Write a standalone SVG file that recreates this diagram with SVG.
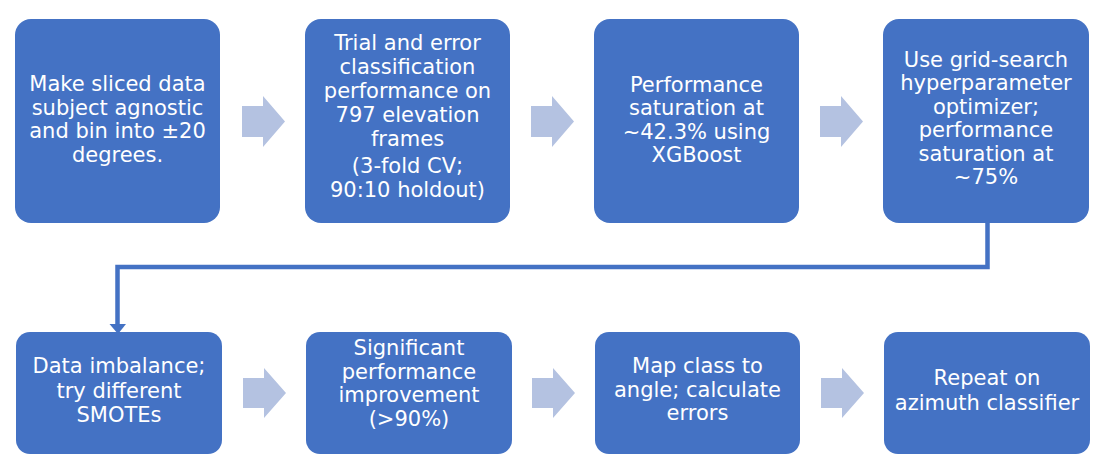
<svg xmlns="http://www.w3.org/2000/svg" width="1100" height="470" viewBox="0 0 1100 470">
<style>
.box{fill:#4472C4;}
.t{font-family:"DejaVu Sans","Liberation Sans",sans-serif;font-size:21px;fill:#FFFFFF;text-anchor:middle;}
.blk{fill:#B4C2E1;}
.con{fill:none;stroke:#4472C4;stroke-width:4.5;}
</style>
<rect width="1100" height="470" fill="#FFFFFF"/>
<g id="connectors">
<path class="con" d="M987.5,222 V267 H117.5 V326"/>
<polygon points="109.5,324 126,324 118,334" fill="#4472C4"/>
<polygon class="blk" points="242,106 263,106 263,96 285,121.5 263,147 263,137 242,137"/>
<polygon class="blk" points="531,106 552,106 552,96 574,121.5 552,147 552,137 531,137"/>
<polygon class="blk" points="820,106 841,106 841,96 863,121.5 841,147 841,137 820,137"/>
<polygon class="blk" points="243,378 264,378 264,368 286,393 264,418 264,408 243,408"/>
<polygon class="blk" points="532,378 553,378 553,368 575,393 553,418 553,408 532,408"/>
<polygon class="blk" points="821,378 842,378 842,368 864,393 842,418 842,408 821,408"/>
</g>
<g id="n1">
<rect class="box" x="15" y="19" width="205" height="204" rx="16"/>
<text class="t"><tspan x="117.5" y="91">Make sliced data</tspan><tspan x="117.5" y="114.5">subject agnostic</tspan><tspan x="117.5" y="138">and bin into ±20</tspan><tspan x="117.5" y="161.5">degrees.</tspan></text>
</g>
<g id="n2">
<rect class="box" x="305" y="19" width="205" height="204" rx="16"/>
<text class="t"><tspan x="407.5" y="50">Trial and error</tspan><tspan x="407.5" y="74">classification</tspan><tspan x="407.5" y="98">performance on</tspan><tspan x="407.5" y="122">797 elevation</tspan><tspan x="407.5" y="146">frames</tspan><tspan x="407.5" y="173">(3-fold CV;</tspan><tspan x="407.5" y="197">90:10 holdout)</tspan></text>
</g>
<g id="n3">
<rect class="box" x="594" y="19" width="205" height="204" rx="16"/>
<text class="t"><tspan x="696.5" y="92">Performance</tspan><tspan x="696.5" y="115">saturation at</tspan><tspan x="696.5" y="138.5">~42.3% using</tspan><tspan x="696.5" y="162">XGBoost</tspan></text>
</g>
<g id="n4">
<rect class="box" x="883" y="19" width="206" height="204" rx="16"/>
<text class="t"><tspan x="986" y="67">Use grid-search</tspan><tspan x="986" y="90">hyperparameter</tspan><tspan x="986" y="113.5">optimizer;</tspan><tspan x="986" y="137">performance</tspan><tspan x="986" y="161">saturation at</tspan><tspan x="986" y="184">~75%</tspan></text>
</g>
<g id="n5">
<rect class="box" x="16" y="332" width="206" height="122" rx="14"/>
<text class="t"><tspan x="119" y="373">Data imbalance;</tspan><tspan x="119" y="398">try different</tspan><tspan x="119" y="422">SMOTEs</tspan></text>
</g>
<g id="n6">
<rect class="box" x="306" y="332" width="206" height="122" rx="14"/>
<text class="t"><tspan x="409" y="355">Significant</tspan><tspan x="409" y="378.5">performance</tspan><tspan x="409" y="402">improvement</tspan><tspan x="409" y="426">(&gt;90%)</tspan></text>
</g>
<g id="n7">
<rect class="box" x="595" y="332" width="205" height="122" rx="14"/>
<text class="t"><tspan x="697.5" y="373">Map class to</tspan><tspan x="697.5" y="397">angle; calculate</tspan><tspan x="697.5" y="420">errors</tspan></text>
</g>
<g id="n8">
<rect class="box" x="884" y="332" width="206" height="122" rx="14"/>
<text class="t"><tspan x="987" y="385">Repeat on</tspan><tspan x="987" y="410">azimuth classifier</tspan></text>
</g>
</svg>
